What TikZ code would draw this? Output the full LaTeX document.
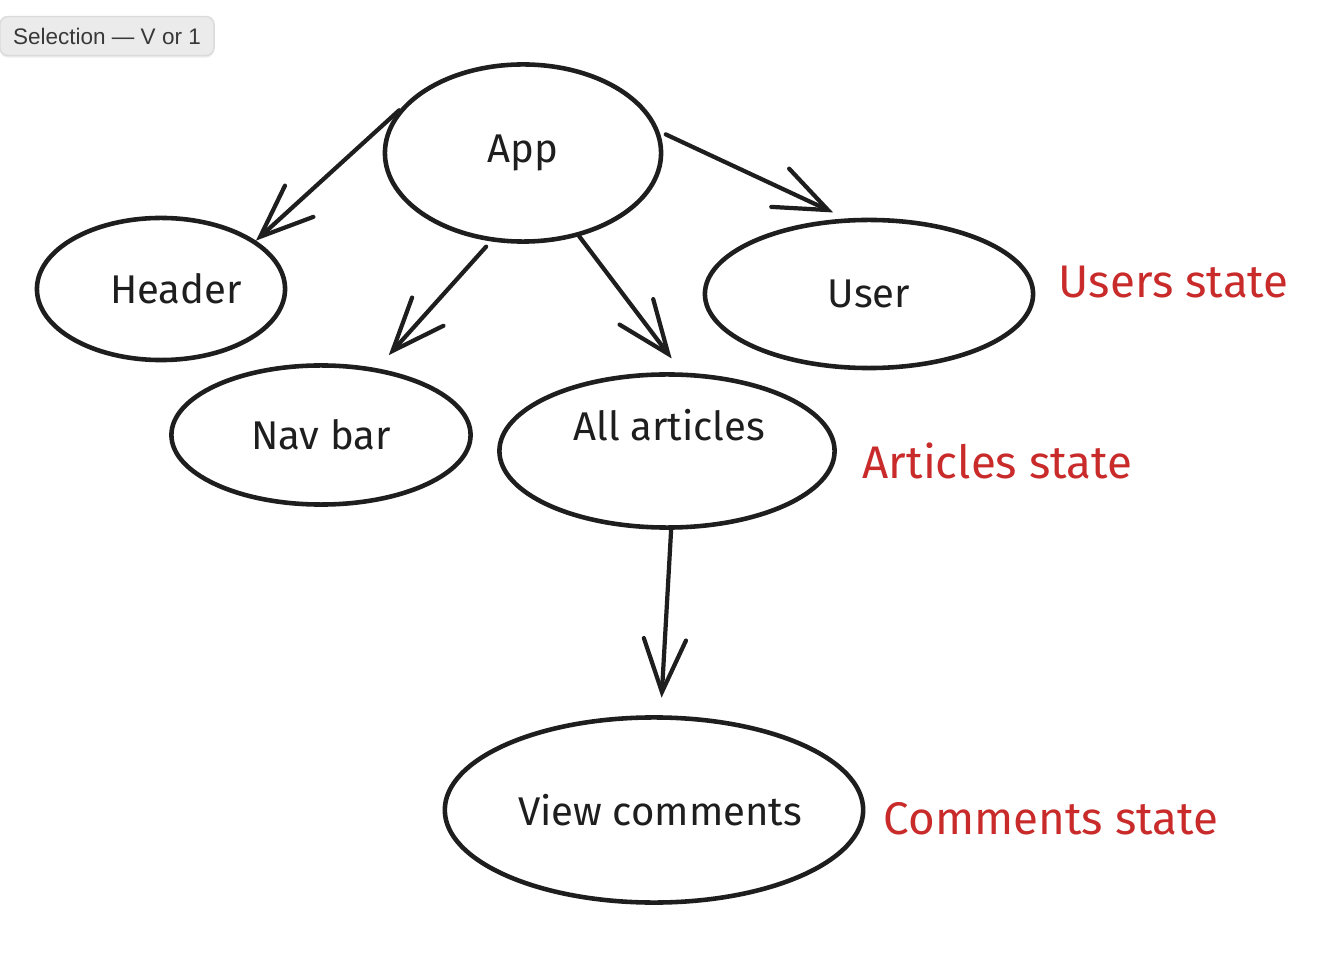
\documentclass[tikz,border=0pt]{standalone}
\usepackage{fontspec}
\setmainfont{Fira Sans}
\newfontfamily\uifont{Liberation Sans}
\usetikzlibrary{shapes.geometric,arrows.meta,shadows}
\definecolor{inkblack}{HTML}{1E1E1E}
\definecolor{statered}{HTML}{C92A2A}
\tikzstyle{comp} = [draw=inkblack, line width=1.3pt, ellipse, inner sep=0pt,
    text=inkblack, font=\fontsize{11.4}{14}\selectfont]
\tikzstyle{flow} = [draw=inkblack, line width=1.2pt, line cap=round,
    -{Straight Barb[length=15pt,width=12pt,line cap=round]}]
\tikzstyle{statelabel} = [text=statered, anchor=west, inner sep=0pt,
    font=\fontsize{13}{15}\selectfont]
\tikzstyle{tooltip} = [fill=black!8, draw=black!14, rounded corners=0.08cm,
    minimum width=2.14cm, minimum height=0.39cm, inner sep=0pt,
    text=black!78, font=\uifont\fontsize{6.4}{7}\selectfont,
    drop shadow={opacity=0.15, shadow xshift=0pt, shadow yshift=-0.6pt}]

\begin{document}
\begin{tikzpicture}[x=0.01cm, y=-0.01cm]
\useasboundingbox[fill=white] (0,0) rectangle (1330,958);

\node [tooltip] (sel) at (107,36) {Selection — V or 1};

% components
\node [comp, minimum width=2.76cm, minimum height=1.77cm] (app) at (523,153) {App};
\node [comp, minimum width=2.48cm, minimum height=1.42cm] (header) at (161,289) {\hspace{0.3cm}Header};
\node [comp, minimum width=3.28cm, minimum height=1.48cm] (user) at (869,294) {User};
\node [comp, minimum width=2.99cm, minimum height=1.39cm] (nav) at (321,435) {Nav bar};
\node [comp, minimum width=3.35cm, minimum height=1.53cm] (articles) at (667,451) {};
\node [font=\fontsize{11.4}{14}\selectfont, text=inkblack] (articlestxt) at (669,425) {All articles};
\node [comp, minimum width=4.11cm, minimum height=1.85cm] (comments) at (654,810) {\hspace{0.12cm}View comments};

% arrows
\draw [flow] (app.161) -- (header.27);
\draw [flow, shorten <=2pt, shorten >=4pt] (app.9) -- (user.107);
\draw [flow, shorten <=2pt, shorten >=5pt] (app.250) -- (nav.50);
\draw [flow, shorten >=5pt] (app.304) -- (articles.79);
\draw [flow, shorten >=5pt] (articles.273) -- (comments.86);

% state notes
\node [statelabel] (userstate) at (1058,282) {Users state};
\node [statelabel] (articlestate) at (862,461) {Articles state};
\node [statelabel] (commentstate) at (883,819) {Comments state};
\end{tikzpicture}
\end{document}
